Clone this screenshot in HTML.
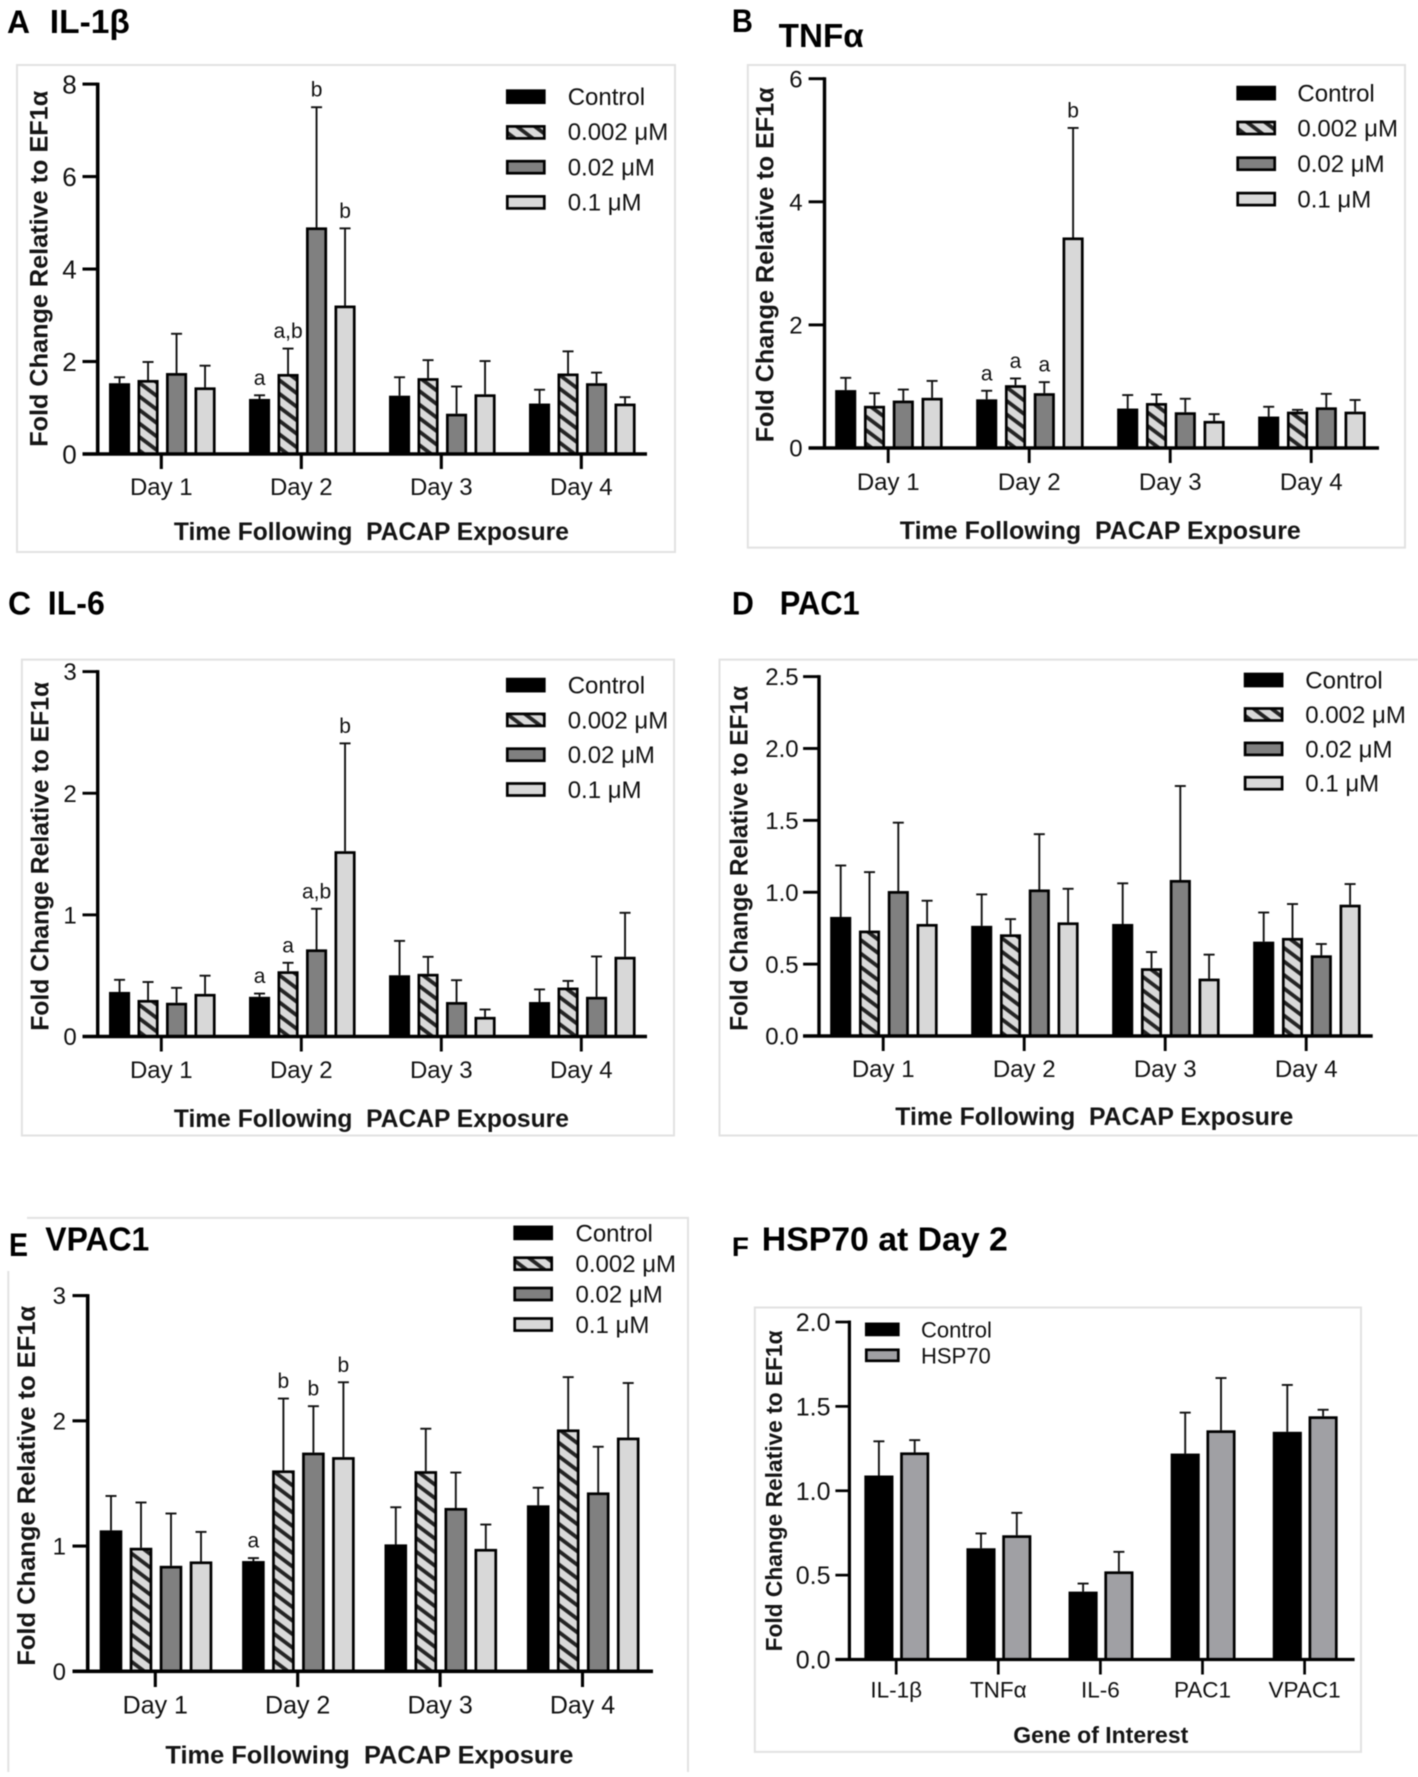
<!DOCTYPE html>
<html lang="en">
<head>
<meta charset="utf-8">
<title>Fold change by time following PACAP exposure</title>
<style>
html,body{margin:0;padding:0;background:#fff;}
svg{display:block;filter:blur(0.4px);}
text{font-family:"Liberation Sans",sans-serif;fill:#111;}
.hd{font-weight:bold;fill:#000;}
.bt{font-weight:bold;fill:#151515;font-size:25px;}
.lg{font-size:24px;}
.fr{fill:none;stroke:#e2e2e2;stroke-width:2;}
.sw{stroke:#000;stroke-width:2.7;}
</style>
</head>
<body>
<svg id="fig" xmlns="http://www.w3.org/2000/svg" width="1418" height="1777" viewBox="0 0 1418 1777">
<defs>
<pattern id="hatch" patternUnits="userSpaceOnUse" width="10.8" height="10.8" patternTransform="rotate(-53)">
<rect width="10.8" height="10.8" fill="#dadada"/>
<rect x="3" width="3.8" height="10.8" fill="#242424"/>
</pattern>
</defs>
<rect width="1418" height="1777" fill="#fff"/>

<!-- Panel A -->
<g id="panel-a">
<rect class="fr" x="17" y="65" width="658" height="487"/>
<text class="hd" x="7" y="33" font-size="32" textLength="23" lengthAdjust="spacingAndGlyphs">A</text>
<text class="hd" x="49.8" y="33" font-size="33" textLength="80" lengthAdjust="spacingAndGlyphs">IL-1β</text>
<text class="bt" transform="translate(47.3,268.8) rotate(-90)" text-anchor="middle" textLength="356" lengthAdjust="spacingAndGlyphs">Fold Change Relative to EF1α</text>
<text class="bt" x="371.4" y="540" text-anchor="middle" textLength="395" lengthAdjust="spacingAndGlyphs" xml:space="preserve">Time Following  PACAP Exposure</text>
<g>
<rect class="sw" x="507.3" y="90.7" width="37" height="12" fill="#000"/><text class="lg" x="567.7" y="105">Control</text>
<rect class="sw" x="507.3" y="126.4" width="37" height="12" fill="url(#hatch)"/><text class="lg" x="567.7" y="140">0.002 μM</text>
<rect class="sw" x="507.3" y="161.2" width="37" height="12" fill="#808080"/><text class="lg" x="567.7" y="175.7">0.02 μM</text>
<rect class="sw" x="507.3" y="196.4" width="37" height="12" fill="#d8d8d8"/><text class="lg" x="567.7" y="210.7">0.1 μM</text>
</g>
</g>

<!-- Panel B -->
<g id="panel-b">
<rect class="fr" x="747.8" y="65" width="657.2" height="482.6"/>
<text class="hd" x="731.9" y="32" font-size="32" textLength="21" lengthAdjust="spacingAndGlyphs">B</text>
<text class="hd" x="778.7" y="46.8" font-size="33" textLength="85" lengthAdjust="spacingAndGlyphs">TNFα</text>
<text class="bt" transform="translate(773.7,264.8) rotate(-90)" text-anchor="middle" textLength="355" lengthAdjust="spacingAndGlyphs">Fold Change Relative to EF1α</text>
<text class="bt" x="1100.3" y="539" text-anchor="middle" textLength="401" lengthAdjust="spacingAndGlyphs" xml:space="preserve">Time Following  PACAP Exposure</text>
<g>
<rect class="sw" x="1237.7" y="87.1" width="37" height="12" fill="#000"/><text class="lg" x="1297.4" y="101.5">Control</text>
<rect class="sw" x="1237.7" y="122" width="37" height="12" fill="url(#hatch)"/><text class="lg" x="1297.4" y="136.4">0.002 μM</text>
<rect class="sw" x="1237.7" y="157.7" width="37" height="12" fill="#808080"/><text class="lg" x="1297.4" y="172.1">0.02 μM</text>
<rect class="sw" x="1237.7" y="193.1" width="37" height="12" fill="#d8d8d8"/><text class="lg" x="1297.4" y="207.5">0.1 μM</text>
</g>
</g>

<!-- Panel C -->
<g id="panel-c">
<rect class="fr" x="21.9" y="659.6" width="652.1" height="475.9"/>
<text class="hd" x="8" y="614.4" font-size="32" textLength="23" lengthAdjust="spacingAndGlyphs">C</text>
<text class="hd" x="47.8" y="614.4" font-size="33" textLength="57" lengthAdjust="spacingAndGlyphs">IL-6</text>
<text class="bt" transform="translate(48.3,856.3) rotate(-90)" text-anchor="middle" textLength="349" lengthAdjust="spacingAndGlyphs">Fold Change Relative to EF1α</text>
<text class="bt" x="371.4" y="1127.1" text-anchor="middle" textLength="395" lengthAdjust="spacingAndGlyphs" xml:space="preserve">Time Following  PACAP Exposure</text>
<g>
<rect class="sw" x="507.3" y="679.1" width="37" height="12" fill="#000"/><text class="lg" x="567.7" y="693.5">Control</text>
<rect class="sw" x="507.3" y="713.9" width="37" height="12" fill="url(#hatch)"/><text class="lg" x="567.7" y="728.3">0.002 μM</text>
<rect class="sw" x="507.3" y="748.7" width="37" height="12" fill="#808080"/><text class="lg" x="567.7" y="763.1">0.02 μM</text>
<rect class="sw" x="507.3" y="783.5" width="37" height="12" fill="#d8d8d8"/><text class="lg" x="567.7" y="797.9">0.1 μM</text>
</g>
</g>

<!-- Panel D -->
<g id="panel-d">
<path class="fr" d="M1418 659.6H719.5V1135.5H1418"/>
<text class="hd" x="731.9" y="614.4" font-size="32" textLength="22" lengthAdjust="spacingAndGlyphs">D</text>
<text class="hd" x="779.7" y="614.4" font-size="33" textLength="80" lengthAdjust="spacingAndGlyphs">PAC1</text>
<text class="bt" transform="translate(747.3,858.4) rotate(-90)" text-anchor="middle" textLength="345" lengthAdjust="spacingAndGlyphs">Fold Change Relative to EF1α</text>
<text class="bt" x="1094.3" y="1125" text-anchor="middle" textLength="398" lengthAdjust="spacingAndGlyphs" xml:space="preserve">Time Following  PACAP Exposure</text>
<g>
<rect class="sw" x="1245.1" y="674" width="37" height="12" fill="#000"/><text class="lg" x="1305.3" y="688.4">Control</text>
<rect class="sw" x="1245.1" y="708.5" width="37" height="12" fill="url(#hatch)"/><text class="lg" x="1305.3" y="722.9">0.002 μM</text>
<rect class="sw" x="1245.1" y="742.9" width="37" height="12" fill="#808080"/><text class="lg" x="1305.3" y="757.3">0.02 μM</text>
<rect class="sw" x="1245.1" y="777.2" width="37" height="12" fill="#d8d8d8"/><text class="lg" x="1305.3" y="791.6">0.1 μM</text>
</g>
</g>

<!-- Panel E -->
<g id="panel-e">
<path class="fr" d="M27 1217.9H688V1772M8.3 1271V1772"/>
<text class="hd" x="9" y="1256.2" font-size="32" textLength="19" lengthAdjust="spacingAndGlyphs">E</text>
<text class="hd" x="45.3" y="1250.3" font-size="33" textLength="104" lengthAdjust="spacingAndGlyphs">VPAC1</text>
<text class="bt" transform="translate(35.2,1485.8) rotate(-90)" text-anchor="middle" textLength="360" lengthAdjust="spacingAndGlyphs">Fold Change Relative to EF1α</text>
<text class="bt" x="369.4" y="1763.7" text-anchor="middle" textLength="408" lengthAdjust="spacingAndGlyphs" xml:space="preserve">Time Following  PACAP Exposure</text>
<g>
<rect class="sw" x="514.7" y="1226.9" width="37" height="12" fill="#000"/><text class="lg" x="575.5" y="1241.3">Control</text>
<rect class="sw" x="514.7" y="1257.7" width="37" height="12" fill="url(#hatch)"/><text class="lg" x="575.5" y="1272.1">0.002 μM</text>
<rect class="sw" x="514.7" y="1288" width="37" height="12" fill="#808080"/><text class="lg" x="575.5" y="1302.4">0.02 μM</text>
<rect class="sw" x="514.7" y="1318.5" width="37" height="12" fill="#d8d8d8"/><text class="lg" x="575.5" y="1332.9">0.1 μM</text>
</g>
</g>

<!-- Panel F -->
<g id="panel-f">
<rect class="fr" x="754.8" y="1307.5" width="606.2" height="444.4"/>
<text class="hd" x="731.9" y="1256.2" font-size="27" textLength="17" lengthAdjust="spacingAndGlyphs">F</text>
<text class="hd" x="761.8" y="1250.3" font-size="33" textLength="246" lengthAdjust="spacingAndGlyphs">HSP70 at Day 2</text>
<text class="bt" style="font-size:23px" transform="translate(782.2,1490.9) rotate(-90)" text-anchor="middle" textLength="321" lengthAdjust="spacingAndGlyphs">Fold Change Relative to EF1α</text>
<text class="bt" style="font-size:23px" x="1100.8" y="1742.8" text-anchor="middle" textLength="175" lengthAdjust="spacingAndGlyphs">Gene of Interest</text>
<g>
<rect class="sw" x="866.3" y="1323.9" width="32" height="11" fill="#000"/><text style="font-size:22px" x="921" y="1337.4">Control</text>
<rect class="sw" x="866.3" y="1349.8" width="32" height="11" fill="#a0a0a4"/><text style="font-size:22px" x="921" y="1363.3">HSP70</text>
</g>
</g>
</svg>

<script>
// Shared category and tick labels
const dayLabels = ['Day 1', 'Day 2', 'Day 3', 'Day 4'];
const geneLabels = ['IL-1β', 'TNFα', 'IL-6', 'PAC1', 'VPAC1'];
const seriesKeys = ['control', '0002', '002', '01'];
const ticksA = ['0', '2', '4', '6', '8'];
const ticksB = ['0', '2', '4', '6'];
const ticksC = ['0', '1', '2', '3'];
const ticksD = ['0.0', '0.5', '1.0', '1.5', '2.0', '2.5'];
const ticksE = ['0', '1', '2', '3'];
const ticksF = ['0.0', '0.5', '1.0', '1.5', '2.0'];

// Panel A: IL-1beta means and upper error values, Day 1..4
const aControl = [1.53, 1.19, 1.26, 1.09];
const a0002 = [1.60, 1.73, 1.64, 1.74];
const a002 = [1.75, 4.90, 0.87, 1.53];
const a01 = [1.44, 3.21, 1.29, 1.09];
const aControlErr = [1.66, 1.27, 1.66, 1.39];
const a0002Err = [1.99, 2.28, 2.03, 2.22];
const a002Err = [2.60, 7.50, 1.46, 1.76];
const a01Err = [1.91, 4.88, 2.01, 1.23];
const aLetters = [['', '', '', ''], ['a', 'a,b', 'b', 'b'], ['', '', '', ''], ['', '', '', '']];

// Panel B: TNF-alpha
const bControl = [0.94, 0.79, 0.64, 0.51];
const b0002 = [0.685, 1.02, 0.73, 0.59];
const b002 = [0.77, 0.89, 0.58, 0.66];
const b01 = [0.815, 3.42, 0.44, 0.59];
const bControlErr = [1.14, 0.93, 0.86, 0.67];
const b0002Err = [0.89, 1.13, 0.87, 0.62];
const b002Err = [0.95, 1.07, 0.80, 0.88];
const b01Err = [1.09, 5.20, 0.55, 0.78];
const bLetters = [['', '', '', ''], ['a', 'a', 'a', 'b'], ['', '', '', ''], ['', '', '', '']];

// Panel C: IL-6
const cControl = [0.366, 0.326, 0.503, 0.283];
const c0002 = [0.30, 0.536, 0.515, 0.402];
const c002 = [0.277, 0.716, 0.283, 0.326];
const c01 = [0.35, 1.523, 0.161, 0.655];
const cControlErr = [0.466, 0.353, 0.786, 0.387];
const c0002Err = [0.448, 0.606, 0.655, 0.457];
const c002Err = [0.40, 1.05, 0.463, 0.658];
const c01Err = [0.50, 2.41, 0.222, 1.017];
const cLetters = [['', '', '', ''], ['a', 'a', 'a,b', 'b'], ['', '', '', ''], ['', '', '', '']];

// Panel D: PAC1
const dControl = [0.828, 0.766, 0.779, 0.656];
const d0002 = [0.733, 0.707, 0.471, 0.682];
const d002 = [1.008, 1.019, 1.085, 0.561];
const d01 = [0.779, 0.79, 0.399, 0.913];
const dControlErr = [1.186, 0.985, 1.062, 0.859];
const d0002Err = [1.14, 0.813, 0.584, 0.918];
const d002Err = [1.484, 1.404, 1.739, 0.64];
const d01Err = [0.941, 1.024, 0.566, 1.057];
const dLetters = [['', '', '', ''], ['', '', '', ''], ['', '', '', ''], ['', '', '', '']];

// Panel E: VPAC1
const eControl = [1.125, 0.88, 1.013, 1.325];
const e0002 = [0.986, 1.604, 1.598, 1.931];
const e002 = [0.842, 1.746, 1.304, 1.428];
const e01 = [0.877, 1.71, 0.977, 1.866];
const eControlErr = [1.40, 0.904, 1.31, 1.466];
const e0002Err = [1.348, 2.178, 1.937, 2.349];
const e002Err = [1.26, 2.117, 1.587, 1.793];
const e01Err = [1.113, 2.308, 1.172, 2.302];
const eLetters = [['', '', '', ''], ['a', 'b', 'b', 'b'], ['', '', '', ''], ['', '', '', '']];

// Panel F: HSP70 at Day 2
const fControl = [1.09, 0.659, 0.402, 1.22, 1.349];
const fHsp70 = [1.227, 0.736, 0.522, 1.358, 1.441];
const fControlErr = [1.293, 0.747, 0.45, 1.463, 1.627];
const fHsp70Err = [1.30, 0.869, 0.638, 1.668, 1.48];
const fLetters = [['', ''], ['', ''], ['', ''], ['', ''], ['', '']];

const dayFills = ['#000', 'url(#hatch)', '#808080', '#d8d8d8'];
const hspFills = ['#000', '#a0a0a4'];

const SVGNS = 'http://www.w3.org/2000/svg';
function make(parent, tag, attrs, content) {
  const el = document.createElementNS(SVGNS, tag);
  for (const k in attrs) el.setAttribute(k, attrs[k]);
  if (content !== undefined) el.textContent = content;
  parent.appendChild(el);
  return el;
}

function drawPanel(p) {
  const root = document.getElementById('panel-' + p.id);
  const yMax = Number(p.ticks[p.ticks.length - 1]);
  const yScale = v => p.y0 - v * (p.y0 - p.yTop) / yMax;
  const xCenter = g => p.firstTick + g * p.tickStep;
  const xBar = (g, s) => xCenter(g) + p.barOffset + (s - (p.means.length - 1) / 2) * p.barStep;

  // error bars behind bars
  p.means.forEach((series, s) => {
    series.forEach((v, g) => {
      const cx = xBar(g, s);
      const top = yScale(p.errs[s][g]);
      const stem = make(root, 'line', {x1: cx, x2: cx, y1: yScale(v), y2: top, stroke: '#111', 'stroke-width': 1.9});
      
      
      const cap = make(root, 'line', {x1: cx - 5.5, x2: cx + 5.5, y1: top, y2: top, stroke: '#111', 'stroke-width': 1.9});
      
      
    });
  });

  // bars
  p.means.forEach((series, s) => {
    series.forEach((v, g) => {
      const cx = xBar(g, s);
      const y = yScale(v) + 1.3;
      const bar = make(root, 'rect', {
        x: cx - p.barW / 2 + 1.3, y: y, width: p.barW - 2.6, height: Math.max(0, p.y0 - y),
        fill: p.fills[s], stroke: '#000', 'stroke-width': 2.7
      });
      
      
    });
  });

  // significance letters
  p.letters.forEach((row, g) => {
    row.forEach((txt, s) => {
      if (!txt) return;
      const t = make(root, 'text', {
        x: xBar(g, s), y: yScale(p.errs[s][g]) - 10.5, 'text-anchor': 'middle', 'font-size': 21
      }, txt);
      
      
    });
  });

  // y axis
  const yAxis = make(root, 'line', {x1: p.xAxisX, x2: p.xAxisX, y1: yScale(yMax) - 1.5, y2: p.y0 + 1.5, stroke: '#000', 'stroke-width': p.axisW});
  
  
  p.ticks.forEach(label => {
    const v = Number(label);
    const y = yScale(v);
    const tick = make(root, 'line', {x1: p.tickLeft, x2: p.xAxisX, y1: y, y2: y, stroke: '#000', 'stroke-width': p.axisW - 0.5});
    
    
    const t = make(root, 'text', {x: p.tickRight, y: y + p.tickFont * 0.36, 'text-anchor': 'end', 'font-size': p.tickFont}, label);
    
    
  });

  // x axis
  const xAxis = make(root, 'line', {x1: p.tickLeft, x2: p.xRight, y1: p.y0, y2: p.y0, stroke: '#000', 'stroke-width': p.axisW});
  
  
  p.categories.forEach((label, g) => {
    const cx = xCenter(g);
    const tick = make(root, 'line', {x1: cx, x2: cx, y1: p.y0, y2: p.y0 + p.tickDown, stroke: '#000', 'stroke-width': p.axisW - 0.5});
    
    
    const t = make(root, 'text', {x: cx, y: p.catBase, 'text-anchor': 'middle', 'font-size': p.catFont}, label);
    
    
  });
}

drawPanel({id: 'a', ticks: ticksA, categories: dayLabels, keys: seriesKeys, fills: dayFills,
  means: [aControl, a0002, a002, a01], errs: [aControlErr, a0002Err, a002Err, a01Err],
  letters: aLetters,
  y0: 454, yTop: 84.1, xAxisX: 97.7, tickLeft: 82.5, xRight: 647, tickRight: 76.7, tickFont: 26,
  firstTick: 161.3, tickStep: 140, barStep: 28.5, barW: 21, barOffset: 1, tickDown: 15, catBase: 495, catFont: 24, axisW: 3.6});

drawPanel({id: 'b', ticks: ticksB, categories: dayLabels, keys: seriesKeys, fills: dayFills,
  means: [bControl, b0002, b002, b01], errs: [bControlErr, b0002Err, b002Err, b01Err],
  letters: bLetters,
  y0: 448, yTop: 78.7, xAxisX: 824.5, tickLeft: 808.6, xRight: 1379, tickRight: 802.6, tickFont: 24,
  firstTick: 888.2, tickStep: 141, barStep: 28.8, barW: 21, barOffset: 0.7, tickDown: 15, catBase: 489.8, catFont: 24, axisW: 3.4});

drawPanel({id: 'c', ticks: ticksC, categories: dayLabels, keys: seriesKeys, fills: dayFills,
  means: [cControl, c0002, c002, c01], errs: [cControlErr, c0002Err, c002Err, c01Err],
  letters: cLetters,
  y0: 1036.5, yTop: 671.6, xAxisX: 97.7, tickLeft: 82.5, xRight: 647, tickRight: 76.7, tickFont: 24,
  firstTick: 161.3, tickStep: 140, barStep: 28.5, barW: 21, barOffset: 1, tickDown: 15, catBase: 1077.8, catFont: 24, axisW: 3.4});

drawPanel({id: 'd', ticks: ticksD, categories: dayLabels, keys: seriesKeys, fills: dayFills,
  means: [dControl, d0002, d002, d01], errs: [dControlErr, d0002Err, d002Err, d01Err],
  letters: dLetters,
  y0: 1036, yTop: 676.6, xAxisX: 819, tickLeft: 803.1, xRight: 1372.7, tickRight: 798.6, tickFont: 24,
  firstTick: 883.2, tickStep: 141, barStep: 28.8, barW: 21, barOffset: 0.7, tickDown: 15, catBase: 1077, catFont: 24, axisW: 3.4});

drawPanel({id: 'e', ticks: ticksE, categories: dayLabels, keys: seriesKeys, fills: dayFills,
  means: [eControl, e0002, e002, e01], errs: [eControlErr, e0002Err, e002Err, e01Err],
  letters: eLetters,
  y0: 1671.3, yTop: 1295.6, xAxisX: 87.7, tickLeft: 72.5, xRight: 653, tickRight: 66, tickFont: 24,
  firstTick: 155.3, tickStep: 142.4, barStep: 30, barW: 22.5, barOffset: 0.7, tickDown: 15.7, catBase: 1713.7, catFont: 25, axisW: 3.6});

drawPanel({id: 'f', ticks: ticksF, categories: geneLabels, keys: ['control', 'hsp70'], fills: hspFills,
  means: [fControl, fHsp70], errs: [fControlErr, fHsp70Err],
  letters: fLetters,
  y0: 1659.5, yTop: 1322, xAxisX: 849.4, tickLeft: 835.4, xRight: 1354.6, tickRight: 830.5, tickFont: 25,
  firstTick: 896.2, tickStep: 102.1, barStep: 35.8, barW: 29, barOffset: 0.6, tickDown: 15, catBase: 1697.3, catFont: 22.5, axisW: 3.2});
</script>
</body>
</html>
